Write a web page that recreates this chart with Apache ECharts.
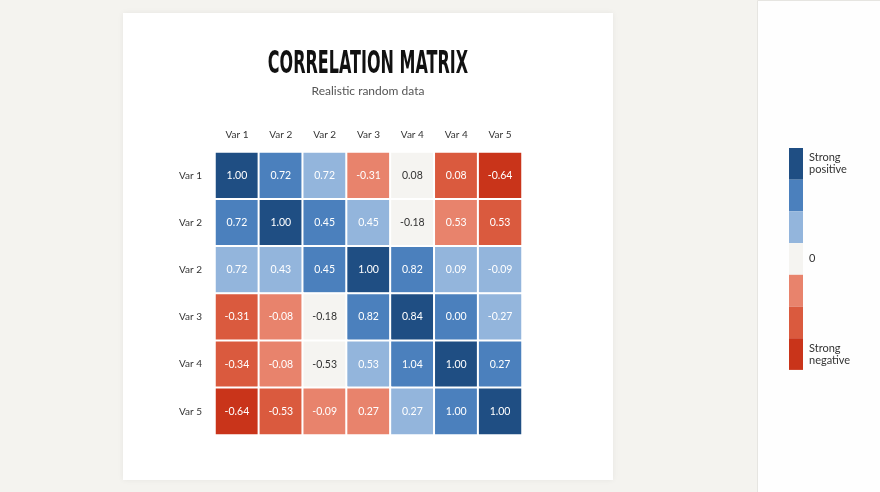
<!DOCTYPE html>
<html>
<head>
<meta charset="utf-8">
<script src="https://cdn.jsdelivr.net/npm/echarts@6/dist/echarts.min.js"></script>
<style>
  html, body { margin: 0; padding: 0; background: #f4f3ef; }
  #CajaGrafico { width: 880px; height: 492px; }
</style>
</head>
<body>
<div id="CajaGrafico"></div>
<script>
// axis categories (the source repeats some names, kept as shown)
var colNames = ['Var 1', 'Var 2', 'Var 2', 'Var 3', 'Var 4', 'Var 4', 'Var 5'];
var rowNames = ['Var 1', 'Var 2', 'Var 2', 'Var 3', 'Var 4', 'Var 5'];

// printed numbers, row by row
var shownValues = [
  [1.00, 0.72, 0.72, -0.31, 0.08, 0.08, -0.64],
  [0.72, 1.00, 0.45, 0.45, -0.18, 0.53, 0.53],
  [0.72, 0.43, 0.45, 1.00, 0.82, 0.09, -0.09],
  [-0.31, -0.08, -0.18, 0.82, 0.84, 0.00, -0.27],
  [-0.34, -0.08, -0.53, 0.53, 1.04, 1.00, 0.27],
  [-0.64, -0.53, -0.09, 0.27, 0.27, 1.00, 1.00]
];

// colour class of each cell (-3 strong negative .. 3 strong positive)
var colorLevels = [
  [3, 2, 1, -1, 0, -2, -3],
  [2, 3, 2, 1, 0, -1, -2],
  [1, 1, 2, 3, 2, 1, 1],
  [-2, -1, 0, 2, 3, 2, 1],
  [-2, -1, 0, 1, 2, 3, 2],
  [-3, -2, -1, -1, 1, 2, 3]
];

var levelColors = ['#c9341a', '#da5a3e', '#e8836c', '#f5f4f1', '#93b5dc', '#4b80bd', '#1f4e83'];
var legendTexts = ['Strong\nnegative', ' ', ' ', '0', ' ', ' ', 'Strong\npositive'];

document.addEventListener('DOMContentLoaded', function () {
  var ChartDOM = document.getElementById('CajaGrafico');
  var myChart = echarts.init(ChartDOM);

  var cells = [];
  for (var r = 0; r < rowNames.length; r++) {
    for (var c = 0; c < colNames.length; c++) {
      var lvl = colorLevels[r][c];
      cells.push({
        value: [c, r, lvl, shownValues[r][c]],
        label: { color: lvl === 0 ? '#333333' : '#ffffff' }
      });
    }
  }

  var pieces = [];
  for (var k = 3; k >= -3; k--) {
    pieces.push({ value: k, label: legendTexts[k + 3], color: levelColors[k + 3] });
  }

  var option = {
    backgroundColor: '#f4f3ef',
    animation: false,
    graphic: [
      {
        type: 'rect', left: 123, top: 13, z: -10,
        shape: { width: 490, height: 467 },
        style: { fill: '#ffffff', shadowBlur: 6, shadowColor: 'rgba(0,0,0,0.06)' }
      },
      {
        type: 'rect', left: 757, top: 0, z: -10,
        shape: { width: 123, height: 492 },
        style: { fill: '#fefefe', stroke: '#e6e5e1', lineWidth: 1 }
      },
      {
        type: 'group', x: 368, y: 65, scaleX: 0.5,
        children: [{
          type: 'text', x: 0, y: 0,
          style: {
            text: 'CORRELATION MATRIX',
            textAlign: 'center', textVerticalAlign: 'middle',
            font: 'bold 32px "DejaVu Sans", sans-serif',
            fill: '#111111'
          }
        }]
      },
      {
        type: 'text', x: 368, y: 91,
        style: {
          text: 'Realistic random data',
          textAlign: 'center', textVerticalAlign: 'middle',
          font: '12px Lato, sans-serif',
          fill: '#555555'
        }
      }
    ],
    grid: { left: 215, right: 358, top: 152, bottom: 57 },
    xAxis: {
      type: 'category',
      position: 'top',
      data: colNames,
      axisLine: { show: false },
      axisTick: { show: false },
      splitArea: { show: false },
      axisLabel: { margin: 12, fontSize: 10, color: '#333', fontFamily: 'Lato, sans-serif' }
    },
    yAxis: {
      type: 'category',
      inverse: true,
      data: rowNames,
      axisLine: { show: false },
      axisTick: { show: false },
      axisLabel: { margin: 13, fontSize: 10, color: '#333', fontFamily: 'Lato, sans-serif' }
    },
    visualMap: {
      type: 'piecewise',
      dimension: 2,
      pieces: pieces,
      orient: 'vertical',
      align: 'left',
      left: 789,
      top: 148,
      padding: 0,
      itemWidth: 14,
      itemHeight: 31.7,
      itemGap: 0,
      itemSymbol: 'rect',
      selectedMode: false,
      hoverLink: false,
      textGap: 6,
      textStyle: { fontSize: 11, color: '#333', fontFamily: 'Lato, sans-serif', lineHeight: 12 }
    },
    series: [{
      type: 'heatmap',
      data: cells,
      itemStyle: { borderColor: '#ffffff', borderWidth: 2 },
      label: {
        show: true,
        fontSize: 10.5,
        fontFamily: 'Lato, sans-serif',
        formatter: function (p) { return p.value[3].toFixed(2); }
      },
      emphasis: { disabled: true }
    }]
  };

  myChart.setOption(option);
  window.addEventListener('resize', function () {
    myChart.resize();
  });
});
</script>
</body>
</html>
